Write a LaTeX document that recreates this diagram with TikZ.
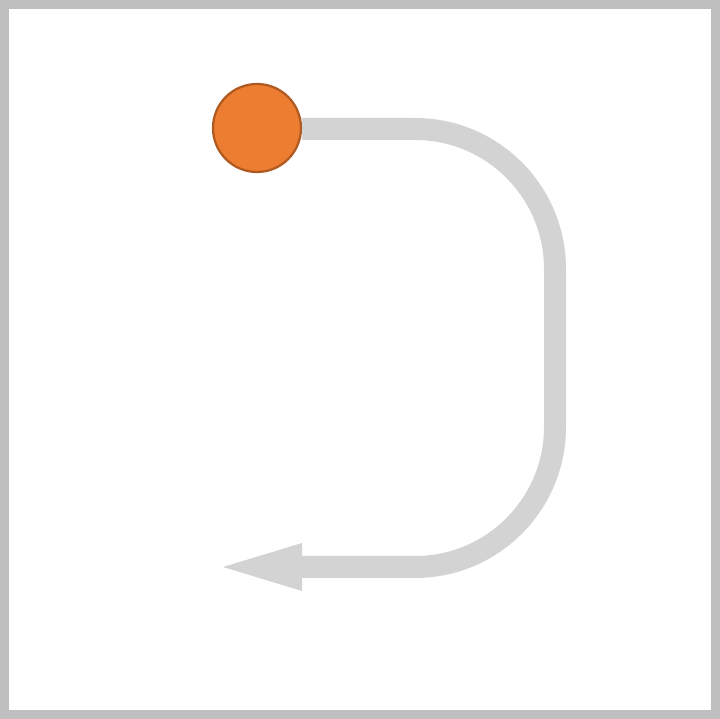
\documentclass[tikz,border=0pt]{standalone}
\usepackage{tikz}
\usetikzlibrary{arrows.meta}
\usetikzlibrary{positioning}

\definecolor{framegray}{RGB}{191,191,191}
\definecolor{trackgray}{RGB}{211,211,211}
\definecolor{dotorange}{RGB}{237,125,49}
\definecolor{dotedge}{RGB}{174,90,33}

\tikzset{
    frame/.style={draw=framegray, line width=0.225cm},
    track/.style={draw=trackgray, line width=0.55cm, rounded corners=3.5cm,
        -{Triangle[length=1.975cm, width=1.2cm, line width=0pt]}},
    marker/.style={circle, fill=dotorange, draw=dotedge, line width=1.6pt,
        minimum size=2.2cm, inner sep=0pt}
}

\begin{document}
\begin{tikzpicture}
        \useasboundingbox (0,0) rectangle (18,17.975);
        
        % outer frame
        \draw[frame] (0.1125,0.1125) rectangle (17.8875,17.8625);
        
        % start point
        \node[marker] (dot) at (6.425,14.775) {};
        
        % bent path back to the left
        \coordinate (turnA) at (13.875,14.75);
        \coordinate (turnB) at (13.875,3.8);
        \coordinate (tip) at (5.575,3.8);
        \draw[track] (dot.east |- turnA) -- (turnA) -- (turnB) -- (tip);
        
\end{tikzpicture}
\end{document}
